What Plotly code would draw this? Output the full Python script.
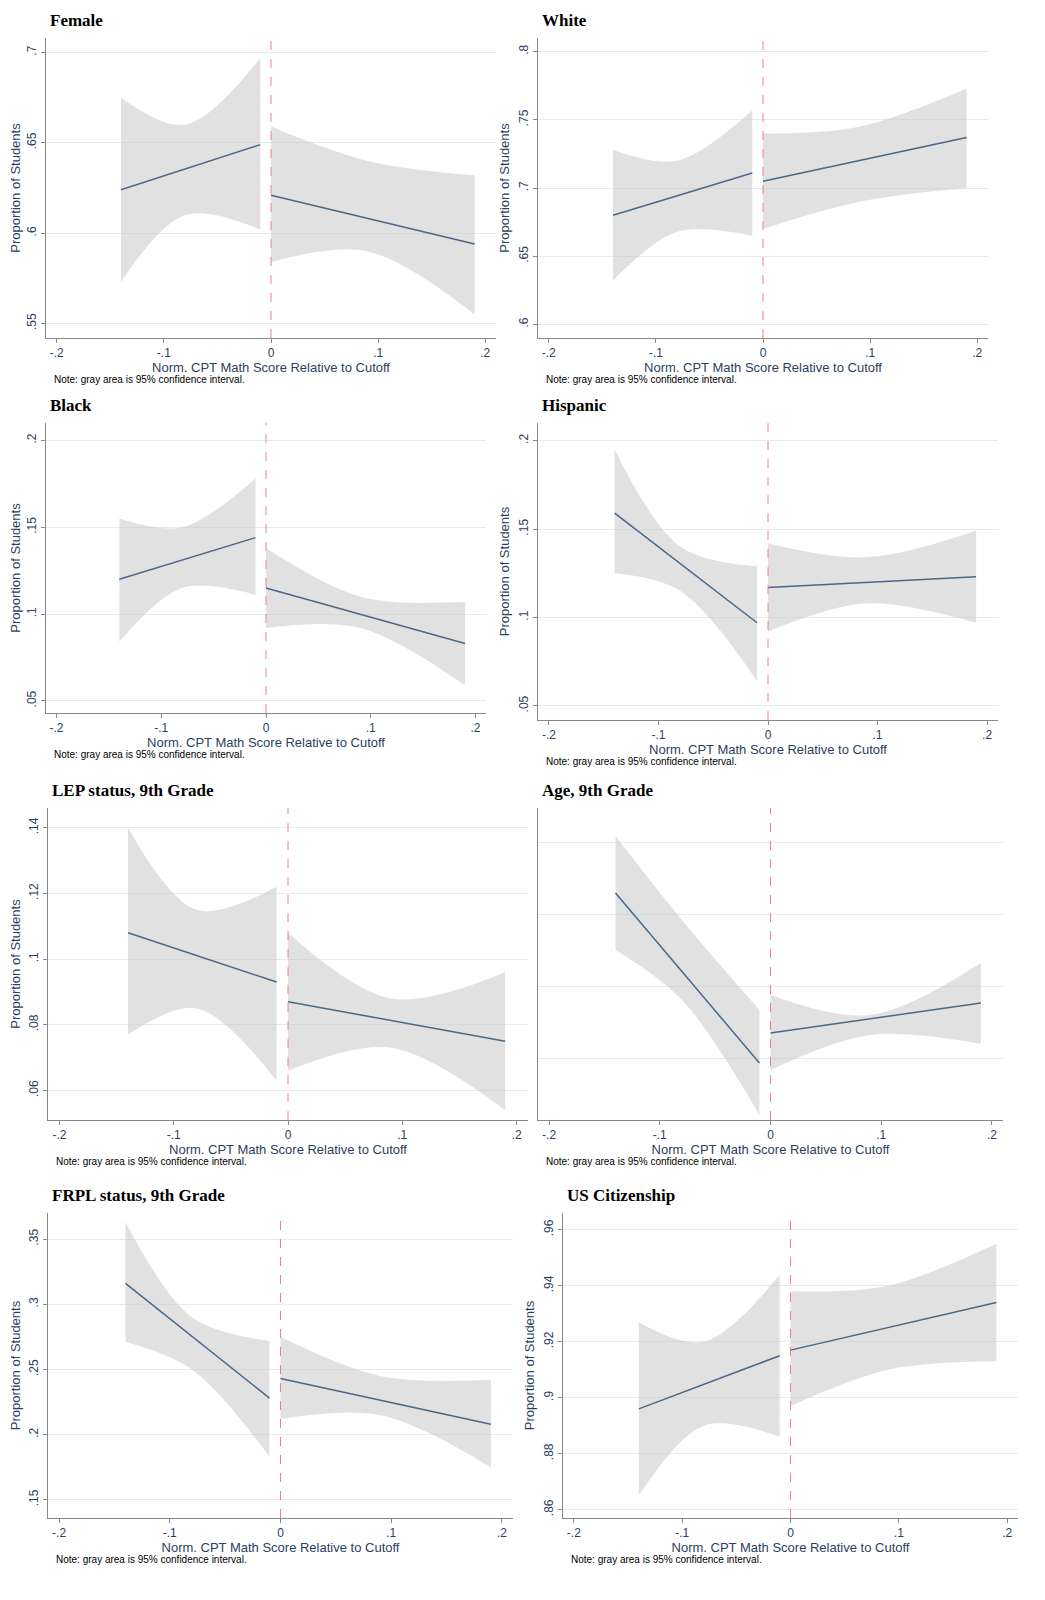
import plotly.graph_objects as go

W, H = 1045, 1600

titles = ["Female", "White", "Black", "Hispanic",
          "LEP status, 9th Grade", "Age, 9th Grade",
          "FRPL status, 9th Grade", "US Citizenship"]

# x positions of fitted segments
x_left = [-0.14, -0.08, -0.01]
x_right = [0.0, 0.09, 0.19]

fit_left = [[0.624, 0.649], [0.680, 0.711], [0.120, 0.144], [0.159, 0.097],
            [0.108, 0.093], [2.27, 0.57], [0.316, 0.228], [0.896, 0.915]]
fit_right = [[0.621, 0.594], [0.705, 0.737], [0.115, 0.083], [0.117, 0.123],
             [0.087, 0.075], [0.87, 1.17], [0.243, 0.208], [0.917, 0.934]]
hi_left = [[0.675, 0.660, 0.697], [0.728, 0.720, 0.757], [0.155, 0.150, 0.178],
           [0.195, 0.140, 0.129], [0.140, 0.115, 0.122], [2.84, 2.00, 1.10],
           [0.363, 0.290, 0.272], [0.927, 0.920, 0.944]]
lo_left = [[0.573, 0.610, 0.602], [0.632, 0.668, 0.665], [0.084, 0.115, 0.111],
           [0.125, 0.115, 0.064], [0.077, 0.085, 0.063], [1.70, 1.20, 0.05],
           [0.271, 0.250, 0.183], [0.865, 0.890, 0.886]]
hi_right = [[0.659, 0.640, 0.632], [0.740, 0.745, 0.773], [0.138, 0.110, 0.107],
            [0.142, 0.134, 0.149], [0.108, 0.088, 0.096], [1.25, 1.05, 1.57],
            [0.275, 0.245, 0.242], [0.938, 0.940, 0.955]]
lo_right = [[0.584, 0.590, 0.555], [0.670, 0.690, 0.700], [0.092, 0.092, 0.059],
            [0.092, 0.108, 0.097], [0.066, 0.073, 0.054], [0.50, 0.85, 0.76],
            [0.212, 0.215, 0.175], [0.897, 0.910, 0.913]]

y_ticks = [[0.55, 0.6, 0.65, 0.7], [0.6, 0.65, 0.7, 0.75, 0.8],
           [0.05, 0.1, 0.15, 0.2], [0.05, 0.1, 0.15, 0.2],
           [0.06, 0.08, 0.1, 0.12, 0.14], [0.62, 1.34, 2.06, 2.78],
           [0.15, 0.2, 0.25, 0.3, 0.35], [0.86, 0.88, 0.9, 0.92, 0.94, 0.96]]
y_ranges = [[0.542, 0.708], [0.59, 0.81], [0.043, 0.21], [0.042, 0.21],
            [0.051, 0.146], [0.0, 3.12], [0.136, 0.37], [0.857, 0.966]]
x_ticks = [-0.2, -0.1, 0, 0.1, 0.2]
x_ticktext = ["-.2", "-.1", "0", ".1", ".2"]

# plot areas in pixels: left, right, top, bottom
boxes = [(38, 488, 30, 330), (530, 980, 30, 330),
         (38, 478, 415, 705), (530, 990, 415, 712),
         (40, 520, 800, 1112), (530, 995, 800, 1112),
         (40, 505, 1205, 1510), (555, 1010, 1205, 1510)]


def fmt(v):
    s = f"{v:g}"
    return s.replace("0.", ".", 1) if s.startswith("0.") else s


fig = go.Figure()
band = "rgba(200,200,200,0.55)"
line_col = "#4a6788"

for i, t in enumerate(titles):
    n = "" if i == 0 else str(i + 1)
    xa, ya = "x" + n, "y" + n
    for xs, hi, lo in [(x_left, hi_left[i], lo_left[i]), (x_right, hi_right[i], lo_right[i])]:
        fig.add_trace(go.Scatter(x=xs, y=lo, mode="lines",
                                 line=dict(width=0, shape="spline", smoothing=1.0),
                                 hoverinfo="skip", showlegend=False, xaxis=xa, yaxis=ya))
        fig.add_trace(go.Scatter(x=xs, y=hi, mode="lines", fill="tonexty",
                                 fillcolor=band,
                                 line=dict(width=0, shape="spline", smoothing=1.0),
                                 hoverinfo="skip", showlegend=False, xaxis=xa, yaxis=ya))
    fig.add_trace(go.Scatter(x=[x_left[0], x_left[-1]], y=fit_left[i], mode="lines",
                             line=dict(color=line_col, width=1.5), showlegend=False,
                             xaxis=xa, yaxis=ya))
    fig.add_trace(go.Scatter(x=[x_right[0], x_right[-1]], y=fit_right[i], mode="lines",
                             line=dict(color=line_col, width=1.5), showlegend=False,
                             xaxis=xa, yaxis=ya))
    l, r, tp, b = boxes[i]
    dom_x = [l / W, r / W]
    dom_y = [1 - b / H, 1 - tp / H]
    fig.update_layout({
        "xaxis" + n: dict(domain=dom_x, range=[-0.21, 0.21], tickvals=x_ticks,
                          ticktext=x_ticktext, showgrid=False, zeroline=False,
                          showline=True, linecolor="#888", ticks="outside",
                          ticklen=4, tickcolor="#888", anchor=ya,
                          tickfont=dict(size=12, family="Arial"),
                          title=dict(text="Norm. CPT Math Score Relative to Cutoff",
                                     font=dict(size=13, family="Arial"), standoff=2)),
        "yaxis" + n: dict(domain=dom_y, range=y_ranges[i], tickvals=y_ticks[i],
                          ticktext=["" if i == 5 else fmt(v) for v in y_ticks[i]],
                          tickangle=-90, showgrid=True, gridcolor="#e3ebf0",
                          zeroline=False, showline=True, linecolor="#888",
                          ticks="" if i == 5 else "outside", ticklen=4, tickcolor="#888",
                          anchor=xa, tickfont=dict(size=12, family="Arial"),
                          title=dict(text="" if i == 5 else "Proportion of Students",
                                     font=dict(size=13, family="Arial"), standoff=4)),
    })
    fig.add_shape(type="line", xref=xa, yref=ya + " domain", x0=0, x1=0, y0=0, y1=1,
                  line=dict(color="#f08080", width=1, dash="dash"))
    fig.add_annotation(text="<b>" + t + "</b>", xref="paper", yref="paper",
                       x=(l + 2) / W, y=1 - (tp - 6) / H, xanchor="left", yanchor="bottom",
                       showarrow=False, font=dict(family="Liberation Serif", size=17, color="black"))
    fig.add_annotation(text="Note: gray area is 95% confidence interval.", xref="paper",
                       yref="paper", x=(l + 6) / W, y=1 - (b + 34) / H, xanchor="left",
                       yanchor="top", showarrow=False,
                       font=dict(family="Arial", size=10, color="black"))

fig.update_layout(width=W, height=H, margin=dict(l=0, r=0, t=0, b=0),
                  plot_bgcolor="white", paper_bgcolor="white")
fig.write_html("out.html")
